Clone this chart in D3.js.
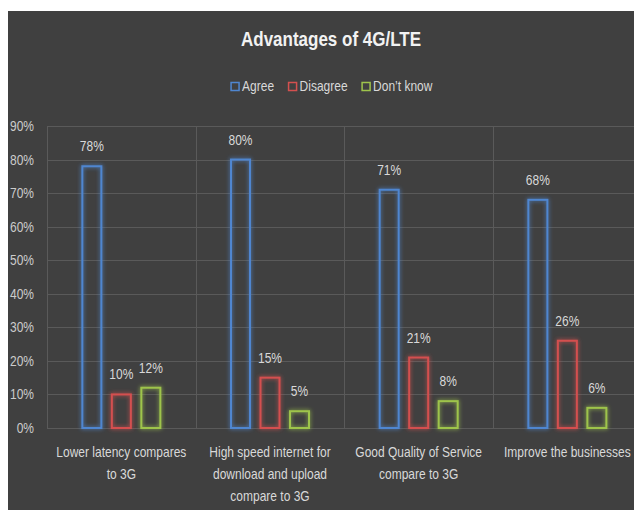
<!DOCTYPE html>
<html>
<head>
<meta charset="utf-8">
<script src="https://cdn.jsdelivr.net/npm/d3@7"></script>
<style>
  body { margin: 0; background: #fff; }
  svg { display: block; font-family: "Liberation Sans", Arial, sans-serif; }
</style>
</head>
<body>
<svg id="chart" width="634" height="510"></svg>
<script>
// data
var categories = [
  "Lower latency compares to 3G",
  "High speed internet for download and upload compare to 3G",
  "Good Quality of Service compare to 3G",
  "Improve the businesses"
];
var seriesNames = ["Agree", "Disagree", "Don\u2019t know"];
var agree = [78, 80, 71, 68];
var disagree = [10, 15, 21, 26];
var dontKnow = [12, 5, 8, 6];
var yTicks = [0, 10, 20, 30, 40, 50, 60, 70, 80, 90];

var seriesValues = [agree, disagree, dontKnow];
var data = categories.map(function (c, i) {
  return { cat: c, values: seriesNames.map(function (s, k) { return { key: s, value: seriesValues[k][i] }; }) };
});

var svg = d3.select("svg#chart"),
  width = +svg.attr("width"),
  height = +svg.attr("height");

var textColor = "#d9d9d9",
  gridColor = "#5a5a5a",
  stretch = 1.2; // the source font is tall and narrow

// place a text at (px, py) with a vertical stretch
function at(px, py) {
  return "translate(" + px + "," + py + ") scale(1," + stretch + ")";
}

// background panel (the picture is cropped on the right and bottom)
svg.append("rect")
  .attr("x", 8).attr("y", 11)
  .attr("width", width).attr("height", height)
  .attr("fill", "#404040");

// glow filter for bar outlines
var defs = svg.append("defs");
var f = defs.append("filter").attr("id", "glow")
  .attr("x", "-50%").attr("y", "-50%").attr("width", "200%").attr("height", "200%");
f.append("feGaussianBlur").attr("in", "SourceGraphic").attr("stdDeviation", 2).attr("result", "blur");
var merge = f.append("feMerge");
merge.append("feMergeNode").attr("in", "blur");
merge.append("feMergeNode").attr("in", "SourceGraphic");

// scales
var x0 = d3.scaleBand().domain(categories).range([47, 641.7]).padding(0);
var x1 = d3.scaleBand().domain(seriesNames).range([0, x0.bandwidth()])
  .paddingInner(0.288).paddingOuter(1.164);
var y = d3.scaleLinear().domain([0, 90]).range([428, 126]);
var z = d3.scaleOrdinal().domain(seriesNames).range(["#4f86d0", "#d4504f", "#9ec44c"]);

// horizontal gridlines
svg.append("g")
  .selectAll("line")
  .data(yTicks)
  .enter()
  .append("line")
  .attr("x1", 47).attr("x2", width)
  .attr("y1", function (d) { return Math.round(y(d)) + 0.5; })
  .attr("y2", function (d) { return Math.round(y(d)) + 0.5; })
  .attr("stroke", gridColor);

// vertical category separators
var seps = categories.map(function (c) { return x0(c); }).concat([x0.range()[1]]);
svg.append("g")
  .selectAll("line")
  .data(seps)
  .enter()
  .append("line")
  .attr("x1", function (d) { return Math.round(d) + 0.5; })
  .attr("x2", function (d) { return Math.round(d) + 0.5; })
  .attr("y1", y(90)).attr("y2", y(0))
  .attr("stroke", gridColor);

// y axis labels
svg.append("g")
  .selectAll("text")
  .data(yTicks)
  .enter()
  .append("text")
  .attr("transform", function (d) { return at(34, y(d)); })
  .attr("dy", "0.35em")
  .attr("text-anchor", "end")
  .attr("fill", "#cccccc")
  .attr("font-size", 12)
  .text(function (d) { return d + "%"; });

// bars
var groups = svg.append("g")
  .selectAll("g")
  .data(data)
  .enter()
  .append("g")
  .attr("transform", function (d) { return "translate(" + x0(d.cat) + ",0)"; });

groups.selectAll("rect")
  .data(function (d) { return d.values; })
  .enter()
  .append("rect")
  .attr("x", function (d) { return x1(d.key) + 1; })
  .attr("y", function (d) { return y(d.value); })
  .attr("width", x1.bandwidth() - 2)
  .attr("height", function (d) { return y(0) - y(d.value); })
  .attr("fill", "none")
  .attr("stroke", function (d) { return z(d.key); })
  .attr("stroke-width", 2)
  .attr("filter", "url(#glow)");

groups.selectAll("text")
  .data(function (d) { return d.values; })
  .enter()
  .append("text")
  .attr("transform", function (d) { return at(x1(d.key) + x1.bandwidth() / 2, y(d.value) - 15); })
  .attr("text-anchor", "middle")
  .attr("fill", textColor)
  .attr("font-size", 12)
  .text(function (d) { return d.value + "%"; });

// category labels, wrapped
var catLabels = svg.append("g")
  .selectAll("text")
  .data(categories)
  .enter()
  .append("text")
  .attr("transform", function (d) { return at(x0(d) + x0.bandwidth() / 2, 456.5); })
  .attr("text-anchor", "middle")
  .attr("fill", textColor)
  .attr("font-size", 12);

catLabels.each(function (d) {
  var t = d3.select(this), words = d.split(" "), line = [];
  var tspan = t.append("tspan").attr("x", 0).attr("dy", 0);
  words.forEach(function (w) {
    line.push(w);
    tspan.text(line.join(" "));
    if (tspan.node().getComputedTextLength() > 140 && line.length > 1) {
      line.pop();
      tspan.text(line.join(" "));
      line = [w];
      tspan = t.append("tspan").attr("x", 0).attr("dy", 22.5 / stretch).text(w);
    }
  });
});

// title
svg.append("text")
  .attr("transform", at(331, 46))
  .attr("text-anchor", "middle")
  .attr("fill", "#f2f2f2")
  .attr("font-size", 17)
  .attr("font-weight", "bold")
  .text("Advantages of 4G/LTE");

// legend
var legend = svg.append("g");
var lx = 0;
seriesNames.forEach(function (s) {
  var item = legend.append("g").attr("transform", "translate(" + lx + ",0)");
  item.append("rect")
    .attr("x", 0.5).attr("y", 82.5)
    .attr("width", 8).attr("height", 8)
    .attr("fill", "none")
    .attr("stroke", z(s))
    .attr("stroke-width", 1.5);
  var t = item.append("text")
    .attr("transform", at(11.5, 91))
    .attr("fill", textColor)
    .attr("font-size", 12)
    .text(s);
  lx += 11.5 + t.node().getComputedTextLength() + 14;
});
var lw = lx - 14;
legend.attr("transform", "translate(" + (331.5 - lw / 2) + ",0)");
</script>
</body>
</html>
